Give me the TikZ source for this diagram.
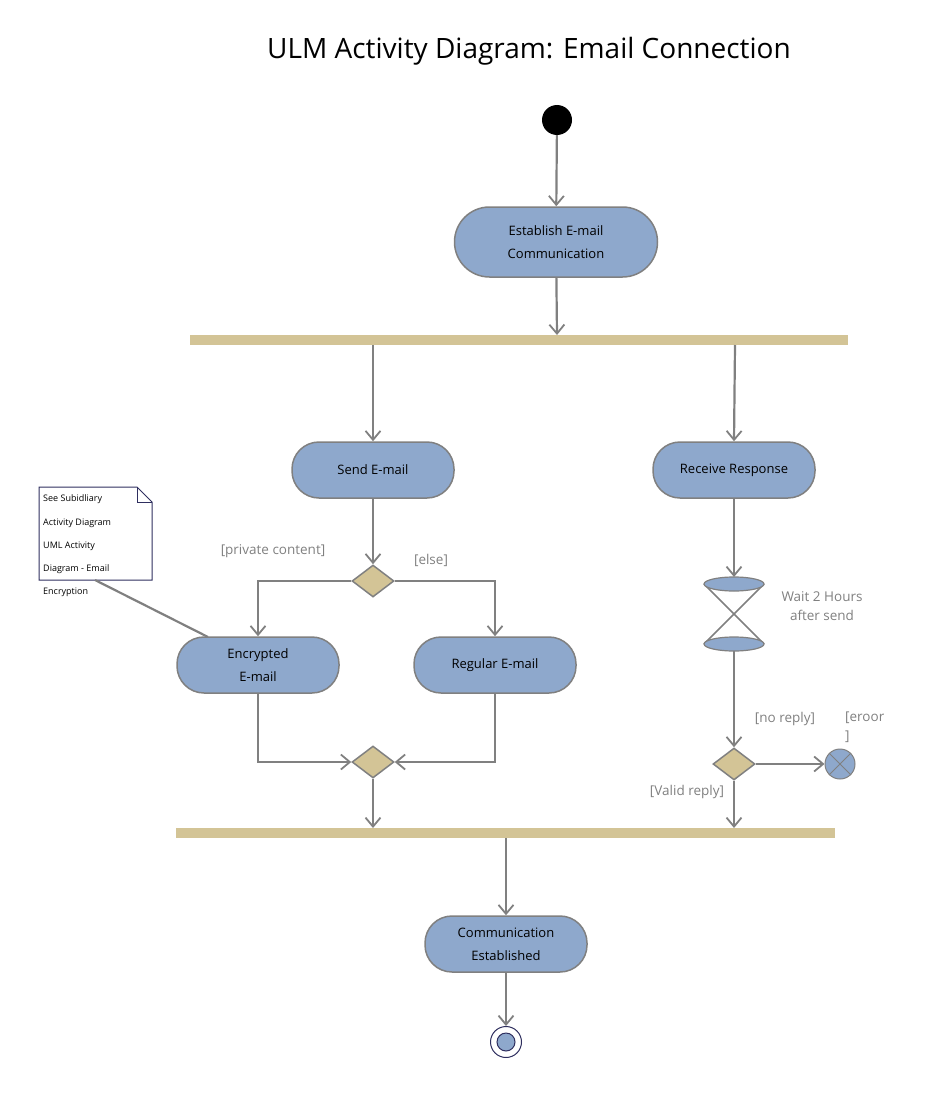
\documentclass[tikz,border=0pt]{standalone}
\usepackage{fontspec}
\setmainfont{Open Sans}
\usetikzlibrary{arrows.meta,shapes.geometric}
\definecolor{actblue}{HTML}{8EA8CC}
\definecolor{bartan}{HTML}{D3C496}
\definecolor{linegray}{HTML}{808080}
\definecolor{notenavy}{HTML}{2F2F5F}
\begin{document}
\begin{tikzpicture}[x=1pt,y=-1pt,
  flow/.style={draw=linegray,line width=2.2pt,-{Straight Barb[length=9pt,width=15pt,line width=1.8pt]}},
  act/.style={draw=linegray,fill=actblue,line width=1.5pt,rounded corners=27pt,minimum width=162pt,minimum height=56pt,align=center,font=\fontsize{13}{23}\selectfont,inner sep=0pt},
  bar/.style={fill=bartan,draw=none,minimum height=10pt,inner sep=0pt},
  dec/.style={diamond,draw=linegray,fill=bartan,line width=1.5pt,minimum width=42pt,minimum height=32pt,inner sep=0pt,aspect=1.3},
  glabel/.style={text=linegray,font=\fontsize{13.5}{19}\selectfont,inner sep=0pt,align=center}
]
\useasboundingbox (0,0) rectangle (931,1097);
\node[font=\fontsize{28}{32}\selectfont] (title) at (529,51) {ULM Activity Diagram: Email Connection};

\node[circle,fill=black,minimum size=30pt,inner sep=0pt] (init) at (557,120) {};
\node[act,minimum width=203pt,minimum height=70pt,rounded corners=35pt] (est) at (556,242) {Establish E-mail\\Communication};
\node[bar,minimum width=658pt] (fork) at (519,340) {};
\node[act] (send) at (373,470) {Send E-mail};
\node[act] (recv) at (734,470) {Receive Response};
\node[dec] (d1) at (373,581) {};
\node[act] (enc) at (258,665) {Encrypted\\E-mail};
\node[act] (reg) at (495,665) {Regular E-mail};
\node[dec] (d2) at (373,762) {};
\node[bar,minimum width=659pt] (join) at (505.5,833) {};
\node[act] (comm) at (506,944) {Communication\\Established};

% final node
\node[circle,draw=notenavy,fill=white,line width=1pt,minimum size=31pt,inner sep=0pt] (fin) at (506,1042) {};
\node[circle,draw=notenavy,fill=actblue,line width=1pt,minimum size=18pt,inner sep=0pt] (finin) at (506,1042) {};

% hourglass
\coordinate (hgtop) at (734,577);
\coordinate (hgbot) at (734,651);
\draw[draw=linegray,line width=1.5pt] (704,584) -- (764,644) (764,584) -- (704,644);
\draw[draw=linegray,fill=actblue,line width=1.2pt] (734,584) ellipse (30pt and 7pt);
\draw[draw=linegray,fill=actblue,line width=1.2pt] (734,644) ellipse (30pt and 7pt);
\node[glabel] (waitlbl) at (822,606) {Wait 2 Hours\\after send};

\node[dec] (d3) at (734,764) {};
\node[circle,draw=linegray,fill=actblue,line width=1pt,minimum size=30pt,inner sep=0pt] (ff) at (840,764) {};
\draw[linegray,line width=0.8pt] (ff.north west) -- (ff.south east) (ff.north east) -- (ff.south west);

% note
\draw[notenavy,fill=white,line width=1pt] (39,487) -- (137,487) -- (152,502) -- (152,580) -- (39,580) -- cycle;
\draw[notenavy,line width=1pt] (137,487) -- (137,502) -- (152,502);
\node[anchor=west,font=\fontsize{9}{11}\selectfont,inner sep=0pt] (nt1) at (43,499) {See Subidliary};
\node[anchor=west,font=\fontsize{9}{11}\selectfont,inner sep=0pt] (nt2) at (43,523) {Activity Diagram};
\node[anchor=west,font=\fontsize{9}{11}\selectfont,inner sep=0pt] (nt3) at (43,546) {UML Activity};
\node[anchor=west,font=\fontsize{9}{11}\selectfont,inner sep=0pt] (nt4) at (43,569) {Diagram - Email};
\node[anchor=west,font=\fontsize{9}{11}\selectfont,inner sep=0pt] (nt5) at (43,592) {Encryption};
\coordinate (noteanchor) at (95,580);
\draw[linegray,line width=2.2pt] (noteanchor) -- (208,637);

% labels
\node[glabel] (lpriv) at (273,551) {[private content]};
\node[glabel] (lelse) at (431,560) {[else]};
\node[glabel] (lnoreply) at (785,719) {[no reply]};
\node[glabel,anchor=north west,align=left] (lerr) at (845,712) {[eroor\\]};
\node[glabel] (lvalid) at (687,792) {[Valid reply]};

% flows
\draw[flow] (init) -- (est);
\draw[flow] (est) -- (557,335);
\draw[flow] (373,345) -- (send);
\draw[flow] (735,345) -- (recv.north);
\draw[flow] (send) -- (d1);
\draw[flow] (d1.west) -| (enc.north);
\draw[flow] (d1.east) -| (reg.north);
\draw[flow] (enc.south) |- (d2.west);
\draw[flow] (reg.south) |- (d2.east);
\draw[flow] (d2) -- (373,828);
\draw[flow] (recv) -- (hgtop);
\draw[flow] (hgbot) -- (d3);
\draw[flow] (d3.east) -- (ff.west);
\draw[flow] (d3.south) -- (734,828);
\draw[flow] (506,838) -- (comm);
\draw[flow] (comm) -- (fin);
\end{tikzpicture}
\end{document}
